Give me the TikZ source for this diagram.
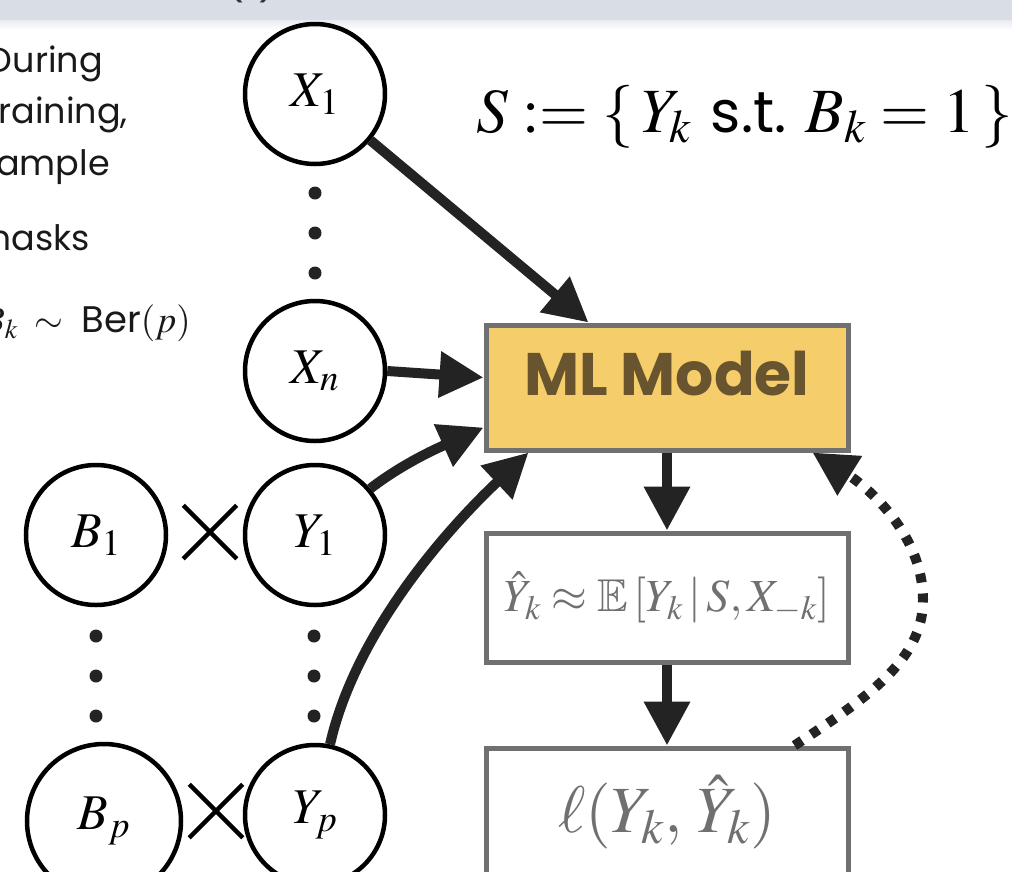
\documentclass[tikz,border=0pt]{standalone}
\usepackage{mathptmx}
\usepackage{amssymb}
\usepackage[no-math]{fontspec}
\setsansfont{Poppins}
\newfontfamily\slidefont{Poppins}
\usetikzlibrary{arrows.meta,calc,shapes.misc}

\definecolor{band}{RGB}{217,221,230}
\definecolor{ink}{RGB}{35,35,35}
\definecolor{boxgray}{RGB}{112,112,112}
\definecolor{txtgray}{RGB}{112,112,112}
\definecolor{modelfill}{RGB}{245,205,107}
\definecolor{modeltext}{RGB}{104,84,46}

\tikzset{
  var/.style={circle, draw=black, line width=4.5pt, minimum size=140pt,
    inner sep=0pt, font=\fontsize{50}{60}\selectfont},
  bigvar/.style={var, minimum size=154pt},
  ellip/.style={circle, fill=ink, minimum size=13pt, inner sep=0pt},
  timesmark/.style={cross out, draw=black, line width=4.5pt,
    minimum size=49pt, inner sep=0pt},
  stagebox/.style={rectangle, draw=boxgray, line width=5pt,
    minimum width=362pt, inner sep=0pt},
  flow/.style={draw=ink, line width=10pt,
    -{Triangle[length=44pt,width=44pt]}},
  feedback/.style={flow, dash pattern=on 9pt off 11pt},
  side/.style={anchor=base east, inner sep=0pt,
    font=\slidefont\fontsize{35}{42}\selectfont, text=black!90},
}

\begin{document}
\begin{tikzpicture}[x=1pt,y=-1pt]
\useasboundingbox (0,0) rectangle (1012,871);

% header strip
\fill[band] (0,0) rectangle (1012,20);
\shade[top color=band!60, bottom color=white] (0,20) rectangle (1012,30);
\node[anchor=south west, inner sep=0pt, text=black!80,
  font=\slidefont\fontsize{40}{40}\selectfont] (title) at (226,3) {(\hspace{14pt})};

% side notes
\node[side] (n1) at (103,72) {During};
\node[side] (n2) at (128,123) {training,};
\node[side] (n3) at (110,175) {sample};
\node[side] (n4) at (90,250) {masks};
\node[side, font=\slidefont\fontsize{37}{42}\selectfont] (n5) at (191,332)
  {$B_k \;\sim\;$ Ber$(p)$};

% definition of the observed set
\node[anchor=base west, inner sep=0pt, font=\fontsize{63}{70}\selectfont]
  (Sdef) at (476,132) {$S := \{\,Y_k\ \mbox{\slidefont\fontsize{58}{60}\selectfont s.t.}\ B_k = 1\,\}$};

% input variables
\node[var] (X1) at (315,94) {$X_1$};
\node[var] (Xn) at (315,371) {$X_n$};
\node[var] (B1) at (96,535) {$B_1$};
\node[var] (Y1) at (315,535) {$Y_1$};
\node[bigvar] (Bp) at (104,821) {$B_p$};
\node[var] (Yp) at (315,815) {$Y_p$};

\node[timesmark] (m1) at (210,532) {};
\node[timesmark] (mp) at (216,811) {};

% vertical ellipses
\foreach \yy [count=\i] in {193,233,273} {
  \node[ellip] (dx\i) at (315,\yy) {};
}
\foreach \yy [count=\i] in {636,676,716} {
  \node[ellip] (db\i) at (96,\yy) {};
  \node[ellip] (dy\i) at (314,\yy) {};
}

% model and training stages
\node[stagebox, fill=modelfill, minimum height=125pt] (ML) at (667,387.5) {};
\node[inner sep=0pt, text=modeltext,
  font=\slidefont\bfseries\fontsize{60}{60}\selectfont] (MLtxt) at (667,374) {ML Model};
\node[stagebox, minimum height=129pt, text=txtgray,
  font=\fontsize{46}{55}\selectfont] (R) at (667,597.5)
  {$\hat{Y}_k \approx \mathbb{E}\left[Y_k \,|\, S, X_{-k}\right]$};
\node[stagebox, minimum height=129pt, text=txtgray,
  font=\fontsize{66}{70}\selectfont] (L) at (667,812.5)
  {$\ell(Y_k,\, \hat{Y}_k)$};

% connectors
\draw[flow] (X1) -- ($(ML.north west)+(105,0)$);
\draw[flow] (Xn.east) -- ($(ML.west)+(0,-10)$);
\draw[flow] (Y1.40) .. controls +(35,-27) and +(-40,18) .. ($(ML.west)+(0,40)$);
\draw[flow] (Yp.78) .. controls +(25,-110) and +(-85,80) .. ($(ML.south west)+(45,0)$);
\draw[flow] (ML) -- (R);
\draw[flow] (R) -- (L);
\coordinate (fbk) at (923,600);
\draw[feedback] ($(L.north west)+(311,0)$) .. controls +(73,-48) and +(0,60) .. (fbk)
  .. controls +(0,-70) and +(48,30) .. ($(ML.south east)+(-38,0)$);
\end{tikzpicture}
\end{document}
